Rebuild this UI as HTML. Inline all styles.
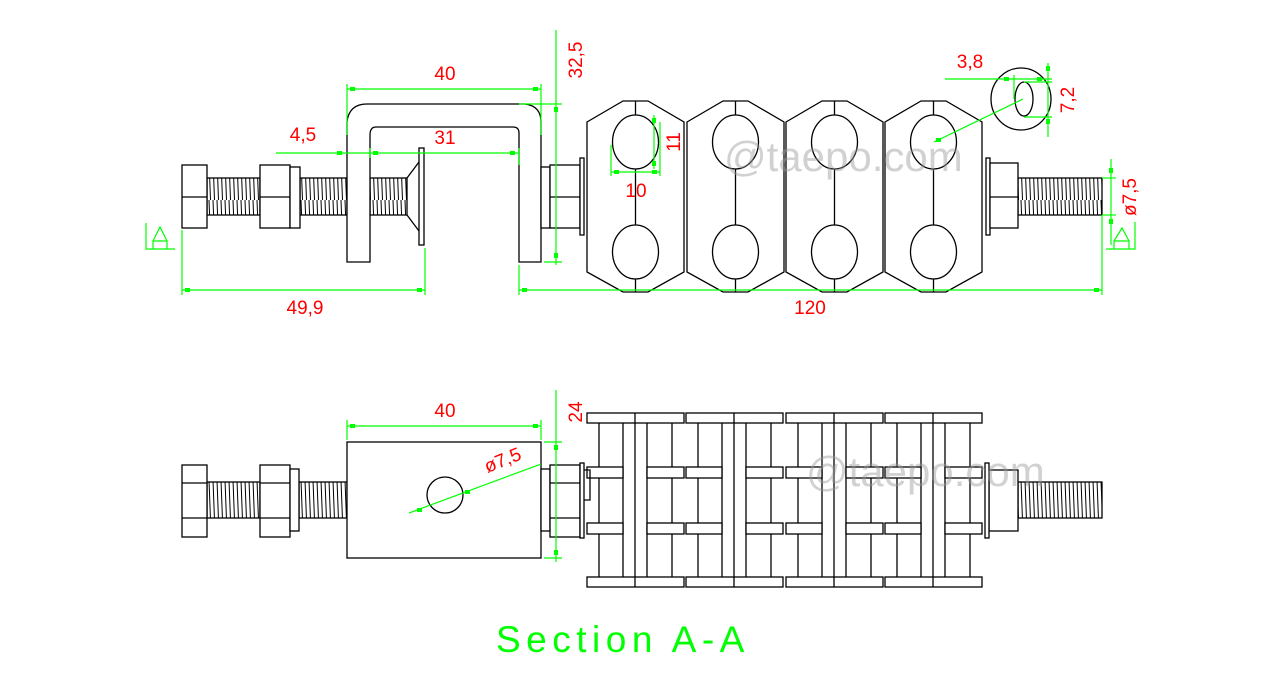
<!DOCTYPE html>
<html><head><meta charset="utf-8"><style>
html,body{margin:0;padding:0;background:#fff;}
svg{display:block;}
text{font-family:"Liberation Sans",sans-serif;}
.r{fill:#f00;font-size:19px;}
</style></head><body>
<svg width="1280" height="675" viewBox="0 0 1280 675" xmlns="http://www.w3.org/2000/svg">
<defs>
<pattern id="th" width="4" height="40" patternUnits="userSpaceOnUse">
<line x1="1" y1="0" x2="2.5" y2="40" stroke="#000" stroke-width="1"/>
</pattern>
<g id="hexblk">
<path d="M0,22 L36,1 L61,1 L97,22 L97,172 L61,192 L36,192 L0,172 Z" fill="none" stroke="#000" stroke-width="1.3"/>
<ellipse cx="48.5" cy="42" rx="23" ry="27" fill="none" stroke="#000" stroke-width="1.3"/>
<ellipse cx="48.5" cy="152" rx="23" ry="27" fill="none" stroke="#000" stroke-width="1.3"/>
<line x1="48.5" y1="1" x2="48.5" y2="15" stroke="#000" stroke-width="1.3"/>
<line x1="48.5" y1="69" x2="48.5" y2="125" stroke="#000" stroke-width="1.3"/>
<line x1="48.5" y1="179" x2="48.5" y2="192" stroke="#000" stroke-width="1.3"/>
</g>
<g id="secblk" fill="none" stroke="#000" stroke-width="1.3">
<rect x="0" y="0" width="97" height="10"/>
<rect x="0" y="164" width="97" height="10"/>
<line x1="12" y1="10" x2="12" y2="164"/>
<line x1="36" y1="10" x2="36" y2="164"/>
<line x1="48" y1="0" x2="48" y2="174"/>
<line x1="60" y1="10" x2="60" y2="164"/>
<line x1="85" y1="10" x2="85" y2="164"/>
<rect x="0" y="54" width="36" height="11" fill="#fff"/>
<rect x="60" y="54" width="37" height="11" fill="#fff"/>
<rect x="0" y="110" width="36" height="11" fill="#fff"/>
<rect x="60" y="110" width="37" height="11" fill="#fff"/>
</g>
</defs>

<!-- ===== TOP VIEW ===== -->
<g fill="#fff" stroke="#000" stroke-width="1.3">
<rect x="207" y="178" width="53" height="37" fill="url(#th)"/>
<rect x="300" y="178" width="47" height="37" fill="url(#th)"/>
<rect x="370" y="178" width="37" height="37" fill="url(#th)"/>
<rect x="182" y="165" width="25" height="63"/><line x1="182" y1="197" x2="207" y2="197"/>
<rect x="260" y="165" width="30" height="63"/><line x1="260" y1="197" x2="290" y2="197"/>
<rect x="290" y="167" width="10" height="61"/>
<path d="M407,178 L419,162 M407,215 L419,231" fill="none"/>
<rect x="419" y="148" width="5" height="97"/>
<path d="M347,262 L347,122 Q349,104 367,104 L525,104 Q541,106 541,122 L541,262 L519,262 L519,133 Q519,127 513,127 L376,127 Q370,127 370,135 L370,262 Z"/>
<rect x="541" y="167" width="9" height="61"/>
<rect x="550" y="165" width="30" height="63"/><line x1="550" y1="197" x2="580" y2="197"/>
<rect x="580" y="158" width="4" height="77"/>
<rect x="1018" y="178" width="84" height="37" fill="url(#th)"/>
<rect x="986" y="158" width="4" height="77"/>
<rect x="990" y="163" width="28" height="65"/><line x1="990" y1="197" x2="1018" y2="197"/>
</g>
<use href="#hexblk" x="587" y="100"/>
<use href="#hexblk" x="687" y="100"/>
<use href="#hexblk" x="786" y="100"/>
<use href="#hexblk" x="885" y="100"/>
<ellipse cx="1021" cy="99" rx="30" ry="31" fill="none" stroke="#000" stroke-width="1.3"/>
<ellipse cx="1024" cy="99" rx="9" ry="17" fill="none" stroke="#000" stroke-width="1.3"/>

<!-- top dims -->
<g stroke="#0f0" stroke-width="1.2" fill="none">
<line x1="182" y1="290" x2="425" y2="290"/><line x1="182" y1="230" x2="182" y2="295"/><line x1="425" y1="248" x2="425" y2="295"/>
<line x1="519" y1="290" x2="1102" y2="290"/><line x1="519" y1="265" x2="519" y2="295"/><line x1="1102" y1="215" x2="1102" y2="295"/>
<line x1="347" y1="89" x2="541" y2="89"/><line x1="347" y1="84" x2="347" y2="135"/><line x1="541" y1="84" x2="541" y2="135"/>
<line x1="276" y1="153" x2="519" y2="153"/><line x1="370" y1="148" x2="370" y2="158"/><line x1="519" y1="148" x2="519" y2="165"/>
<line x1="556" y1="30" x2="556" y2="265"/><line x1="519" y1="104" x2="562" y2="104"/><line x1="544" y1="262" x2="562" y2="262"/>
<line x1="654" y1="115" x2="654" y2="169"/><line x1="660" y1="122" x2="660" y2="176"/>
<line x1="611" y1="172" x2="660" y2="172"/><line x1="611" y1="145" x2="611" y2="176"/>
<line x1="945" y1="79" x2="1052" y2="79"/><line x1="1014" y1="75" x2="1014" y2="99"/>
<line x1="1048" y1="63" x2="1048" y2="137"/><line x1="1024" y1="82" x2="1052" y2="82"/><line x1="1024" y1="117" x2="1052" y2="117"/>
<line x1="1023" y1="99" x2="934" y2="142"/>
<line x1="1111" y1="159" x2="1111" y2="245"/><line x1="1102" y1="178" x2="1116" y2="178"/><line x1="1102" y1="215" x2="1116" y2="215"/>
<path d="M146,223 L146,249 L175,249 M153,249 L153,241 L167,241 L167,249 M153,241 L160,227 L167,241"/>
<path d="M1135,222 L1135,249 L1106,249 M1114,249 L1114,241 L1129,241 L1129,249 M1114,241 L1122,228 L1129,241"/>
</g>
<g fill="#0f0">
<rect x="185" y="288" width="5" height="4"/><rect x="417" y="288" width="5" height="4"/>
<rect x="522" y="288" width="5" height="4"/><rect x="1094" y="288" width="5" height="4"/>
<rect x="350" y="87" width="5" height="4"/><rect x="533" y="87" width="5" height="4"/>
<rect x="337" y="151" width="5" height="4"/><rect x="373" y="151" width="5" height="4"/><rect x="510" y="151" width="5" height="4"/>
<rect x="554" y="107" width="4" height="5"/><rect x="554" y="253" width="4" height="5"/>
<rect x="652" y="118" width="4" height="5"/><rect x="652" y="161" width="4" height="5"/>
<rect x="614" y="170" width="5" height="4"/><rect x="652" y="170" width="5" height="4"/>
<rect x="1004" y="77" width="5" height="4"/><rect x="1037" y="77" width="5" height="4"/>
<rect x="1046" y="66" width="4" height="5"/><rect x="1046" y="119" width="4" height="5"/>
<rect x="1109" y="168" width="4" height="5"/><rect x="1109" y="219" width="4" height="5"/>
<rect x="936" y="138" width="5" height="4"/>
</g>
<g class="r">
<text x="305" y="314" text-anchor="middle">49,9</text>
<text x="810" y="314" text-anchor="middle">120</text>
<text x="445" y="80" text-anchor="middle">40</text>
<text x="303" y="141" text-anchor="middle">4,5</text>
<text x="445" y="144" text-anchor="middle">31</text>
<text x="636" y="197" text-anchor="middle">10</text>
<text x="970" y="68" text-anchor="middle">3,8</text>
<text transform="translate(582,60) rotate(-90)" text-anchor="middle">32,5</text>
<text transform="translate(680,142) rotate(-90)" text-anchor="middle">11</text>
<text transform="translate(1074,100) rotate(-90)" text-anchor="middle">7,2</text>
<text transform="translate(1136,197) rotate(-90)" text-anchor="middle">ø7,5</text>
</g>

<!-- ===== SECTION VIEW ===== -->
<g fill="#fff" stroke="#000" stroke-width="1.3">
<rect x="207" y="482" width="53" height="36" fill="url(#th)"/>
<rect x="299" y="482" width="48" height="36" fill="url(#th)"/>
<rect x="182" y="465" width="25" height="72"/><path d="M182,483 L207,483 M182,518 L207,518" fill="none"/>
<rect x="260" y="465" width="30" height="72"/><path d="M260,483 L290,483 M260,518 L290,518" fill="none"/>
<rect x="290" y="469" width="9" height="62"/>
<rect x="347" y="442" width="194" height="116"/>
<circle cx="445" cy="495" r="18"/>
<rect x="541" y="469" width="9" height="62"/>
<rect x="550" y="465" width="30" height="72"/><path d="M550,483 L580,483 M550,518 L580,518" fill="none"/>
</g>
<use href="#secblk" x="587" y="413"/>
<use href="#secblk" x="686" y="413"/>
<use href="#secblk" x="786" y="413"/>
<use href="#secblk" x="885" y="413"/>
<g fill="#fff" stroke="#000" stroke-width="1.3">
<rect x="580" y="463" width="4" height="75"/>
<path d="M584,470 L590,470 L590,500 L584,500" fill="none"/>
<rect x="1018" y="482" width="84" height="36" fill="url(#th)"/>
<rect x="989" y="470" width="29" height="61"/>
<rect x="985" y="463" width="4" height="75"/>
</g>
<g stroke="#0f0" stroke-width="1.2" fill="none">
<line x1="347" y1="426" x2="541" y2="426"/><line x1="347" y1="420" x2="347" y2="440"/><line x1="541" y1="420" x2="541" y2="440"/>
<line x1="556" y1="390" x2="556" y2="562"/><line x1="544" y1="442" x2="562" y2="442"/><line x1="544" y1="558" x2="562" y2="558"/>
<line x1="409" y1="513" x2="541" y2="464"/>
</g>
<g fill="#0f0">
<rect x="350" y="424" width="5" height="4"/><rect x="533" y="424" width="5" height="4"/>
<rect x="554" y="445" width="4" height="5"/><rect x="554" y="550" width="4" height="5"/>
<rect x="417" y="508" width="5" height="4"/><rect x="465" y="490" width="5" height="4"/>
</g>
<g class="r">
<text x="445" y="417" text-anchor="middle">40</text>
<text transform="translate(582,412) rotate(-90)" text-anchor="middle">24</text>
<text transform="translate(505,466) rotate(-22)" text-anchor="middle">ø7,5</text>
</g>

<!-- watermarks -->
<g fill="#999" fill-opacity="0.45" font-size="42">
<text x="724" y="171">@taepo.com</text>
<text x="806" y="486">@taepo.com</text>
</g>
<text x="496" y="652" fill="#0f0" font-size="37" letter-spacing="5.5">Section A-A</text>
</svg>
</body></html>
